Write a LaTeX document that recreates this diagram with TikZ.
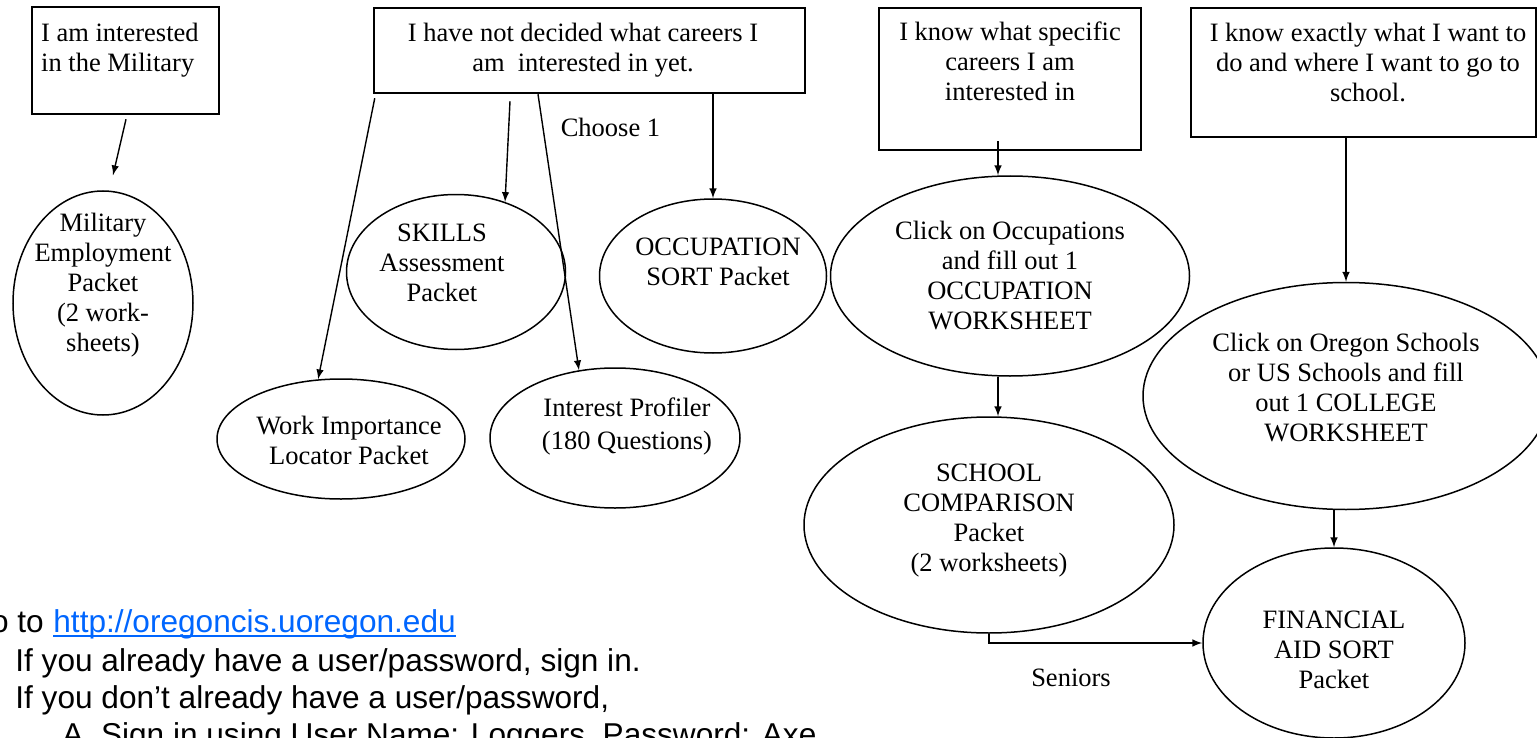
\documentclass[tikz,border=0pt]{standalone}
\usepackage{fontspec}
\setmainfont{Liberation Serif}
\newfontfamily\arialfont{Liberation Sans}
\usepackage{tikz}
\usetikzlibrary{positioning, calc, shapes}
\definecolor{linkblue}{RGB}{0,102,255}

\begin{document}
\begin{tikzpicture}[x=0.5pt, y=-0.5pt]
\tikzstyle{choicebox}=[draw, line width=1.25pt, inner sep=0pt]
\tikzstyle{packet}=[draw, ellipse, line width=0.75pt, inner sep=0pt]
\tikzstyle{boxtext}=[font=\fontsize{13.25}{15}\selectfont, align=center, inner sep=0pt, anchor=north]
\tikzstyle{note}=[font=\fontsize{13.25}{15}\selectfont, inner sep=0pt]
\tikzstyle{howto}=[font=\arialfont\fontsize{15.8}{18.5}\selectfont, inner sep=0pt, anchor=base west]
\tikzstyle{connect}=[-latex, line width=0.7pt]

\useasboundingbox (0,0) rectangle (1537,738);

% choices
\node (military) at (125.5,60.5) [choicebox, minimum width=93.5pt, minimum height=53.5pt] {};
\node (undecided) at (589.5,50.5) [choicebox, minimum width=215.5pt, minimum height=42.5pt] {};
\node (specific) at (1010,79) [choicebox, minimum width=131pt, minimum height=71pt] {};
\node (exactly) at (1363.5,72.5) [choicebox, minimum width=172.5pt, minimum height=64.5pt] {};

\node (militaryT) [boxtext, anchor=north west, align=left, below right=8.25pt and 5pt of military.north west] {I am interested\\in the Military};
\node (undecidedT) [boxtext, below=7.75pt of undecided.north, xshift=-3.25pt] {I have not decided what careers I\\am\ \ interested in yet.};
\node (specificT) [boxtext, below=7.25pt of specific.north] {I know what specific\\careers I am\\interested in};
\node (exactlyT) [boxtext, below=7.75pt of exactly.north, xshift=2.25pt] {I know exactly what I want to\\do and where I want to go to\\school.};

% packets
\node (militaryE) at (103,303) [packet, minimum width=90pt, minimum height=112pt] {};
\node (skillsE) at (456,272) [packet, minimum width=109.5pt, minimum height=77.5pt] {};
\node (occsortE) at (713,276) [packet, minimum width=113.5pt, minimum height=77pt] {};
\node (workE) at (341,439) [packet, minimum width=124pt, minimum height=60pt] {};
\node (interestE) at (615,438) [packet, minimum width=125pt, minimum height=70pt] {};
\node (clickE) at (1010,276) [packet, minimum width=179.5pt, minimum height=100pt] {};
\node (collegeE) at (1346,396) [packet, minimum width=203pt, minimum height=113.5pt] {};
\node (schoolE) at (989,525) [packet, minimum width=185pt, minimum height=108pt] {};
\node (aidE) at (1334,643) [packet, minimum width=131pt, minimum height=95pt] {};

\node (militaryP) at (militaryE) [boxtext, yshift=45.25pt] {Military\\Employment\\Packet\\(2 work-\\sheets)};
\node (skillsP) at (skillsE) [boxtext, xshift=-7pt, yshift=24.25pt] {SKILLS\\Assessment\\Packet};
\node (occsortP) at (occsortE) [boxtext, xshift=2.5pt, yshift=19.25pt] {OCCUPATION\\SORT Packet};
\node (workP) at (workE) [boxtext, xshift=4pt, yshift=11.75pt] {Work Importance\\Locator Packet};
\node (interestP) at (interestE) [boxtext, xshift=6pt, yshift=20.25pt] {Interest Profiler\\[1.5pt](180 Questions)};
\node (clickP) at (clickE) [boxtext, yshift=27.75pt] {Click on Occupations\\and fill out 1\\OCCUPATION\\WORKSHEET};
\node (collegeP) at (collegeE) [boxtext, yshift=31.75pt] {Click on Oregon Schools\\or US Schools and fill\\out 1 COLLEGE\\WORKSHEET};
\node (schoolP) at (schoolE) [boxtext, yshift=30.75pt] {SCHOOL\\COMPARISON\\Packet\\(2 worksheets)};
\node (aidP) at (aidE) [boxtext, yshift=16.25pt] {FINANCIAL\\AID SORT\\Packet};

\node (choose) at (610.5,127) [note] {Choose 1};
\node (seniors) at (1071,678) [note] {Seniors};

% connections
\draw[connect] ([xshift=0.25pt, yshift=-2pt]military.south) -- ([xshift=5pt, yshift=7.5pt]militaryE.north);
\draw[connect] ([xshift=1pt, yshift=-2pt]undecided.south west) -- (workE.111);
\draw[connect] ([xshift=-39.75pt, yshift=-3.5pt]undecided.south) -- (skillsE.55);
\draw[connect] ([xshift=-25.75pt]undecided.south) -- (interestE.118);
\draw[connect] (occsortE |- undecided.south) -- (occsortE);
\draw[connect] ([xshift=-6pt, yshift=5pt]specific.south) -- ([xshift=-6pt]clickE.north);
\draw[connect] (collegeE |- exactly.south) -- (collegeE);
\draw[connect] ([xshift=-6pt]clickE.south) -- ([xshift=4.5pt]schoolE.north);
\draw[connect] (aidE |- collegeE.south) -- (aidE);
\draw[connect] (schoolE.south) |- (aidE.west);

% how to log in
\node (url) at (53,632) [howto, text=linkblue] {http://oregoncis.uoregon.edu};
\node (goto) at ([xshift=-4.4pt]url.base west) [howto, anchor=base east] {Go to};
\draw[linkblue, line width=1.1pt] ([yshift=-2pt]url.base west) -- ([yshift=-2pt]url.base east);
\node (signin) at (15,671) [howto] {If you already have a user/password, sign in.};
\node (nouser) at (15,708) [howto] {If you don’t already have a user/password,};
\node (guest) at (62,745) [howto] {A. Sign in using User Name: Loggers, Password: Axe};

\end{tikzpicture}
\end{document}
